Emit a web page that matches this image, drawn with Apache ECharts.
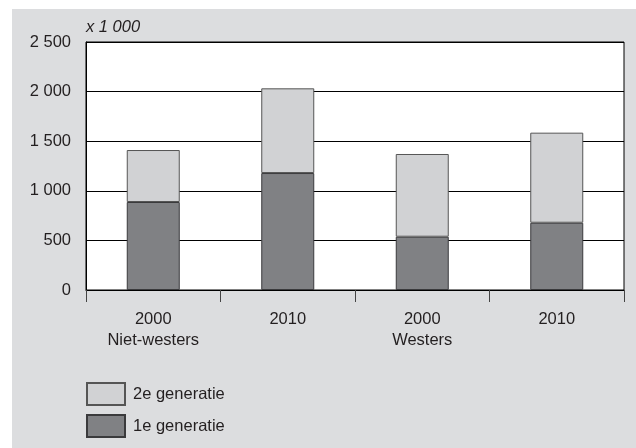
<!DOCTYPE html>
<html><head><meta charset="utf-8">
<script src="https://cdn.jsdelivr.net/npm/echarts@6/dist/echarts.min.js"></script>
<style>html,body{margin:0;padding:0;background:#fff}#c{width:636px;height:448px}</style>
</head><body><div id="c"></div>
<script>
var categories = ['2000\nNiet-westers', '2010', '2000\nWesters', '2010'];
var gen1 = [887, 1179, 537, 678];
var gen2 = [524, 854, 834, 908];
var seriesNames = ['1e generatie', '2e generatie'];
var yTicks = { min: 0, max: 2500, interval: 500 };
var unitLabel = 'x 1 000';

var chart = echarts.init(document.getElementById('c'), null, { renderer: 'canvas' });
var font = 'Liberation Sans, Arial, Helvetica, sans-serif';
var txt = '#231f20';
chart.setOption({
  animation: false,
  backgroundColor: '#fff',
  graphic: [
    { type: 'rect', z: -10, shape: { x: 12, y: 9, width: 624, height: 439 }, style: { fill: '#dcdddf' } },
    { type: 'text', left: 86, top: 19, style: { text: unitLabel, fontStyle: 'italic', fontSize: 16.5, fontFamily: font, fill: txt } }
  ],
  grid: { left: 86, top: 42, right: 12, bottom: 158, containLabel: false, show: true, backgroundColor: '#fff', borderColor: '#000', borderWidth: 1 },
  legend: {
    orient: 'vertical', left: 86, top: 382, padding: 0, itemWidth: 38, itemHeight: 22, itemGap: 8, icon: 'rect',
    data: ['2e generatie', '1e generatie'],
    textStyle: { fontSize: 16.5, fontFamily: font, color: txt, padding: [0, 0, 0, 3] }
  },
  xAxis: {
    type: 'category', data: categories,
    axisLine: { lineStyle: { color: '#000', width: 1 } },
    axisTick: { show: true, length: 12, lineStyle: { color: '#444' } },
    axisLabel: { margin: 19, fontSize: 16.5, lineHeight: 21, fontFamily: font, color: txt, interval: 0 },
    splitLine: { show: false }
  },
  yAxis: {
    type: 'value', min: yTicks.min, max: yTicks.max, interval: yTicks.interval,
    axisLine: { show: true, lineStyle: { color: '#000' } },
    axisTick: { show: false },
    splitLine: { lineStyle: { color: '#000', width: 1 } },
    axisLabel: { margin: 15, fontSize: 16.5, fontFamily: font, color: txt,
      formatter: function (v) { return String(v).replace(/\B(?=(\d{3})+(?!\d))/g, ' '); } }
  },
  series: [
    { name: seriesNames[0], type: 'bar', stack: 't', data: gen1, barWidth: 53,
      itemStyle: { color: '#808184', borderColor: '#3a3a3c', borderWidth: 1 } },
    { name: seriesNames[1], type: 'bar', stack: 't', data: gen2, barWidth: 53,
      itemStyle: { color: '#d1d2d4', borderColor: '#555', borderWidth: 1 } }
  ]
});
</script></body></html>
